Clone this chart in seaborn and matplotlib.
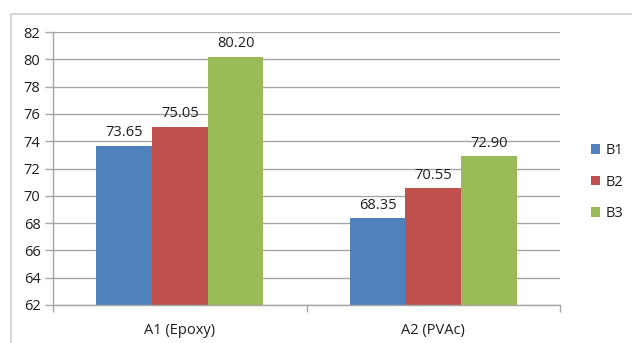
import matplotlib
matplotlib.use("Agg")
import matplotlib.pyplot as plt
from matplotlib.patches import Rectangle
import seaborn as sns
import pandas as pd

categories = ["A1 (Epoxy)", "A2 (PVAc)"]
series = ["B1", "B2", "B3"]
b1 = [73.65, 68.35]
b2 = [75.05, 70.55]
b3 = [80.20, 72.90]
yticks = [62, 64, 66, 68, 70, 72, 74, 76, 78, 80, 82]

colors = ["#4F81BD", "#C0504D", "#9BBB59"]

df = pd.DataFrame({
    "category": categories * 3,
    "series": [s for s in series for _ in categories],
    "value": b1 + b2 + b3,
})

sns.set_theme(style="white")
plt.rcParams["font.family"] = ["Open Sans", "DejaVu Sans"]
text_color = "#1f1f1f"
fs = 10.5

fig = plt.figure(figsize=(6.32, 3.43), dpi=100)
ax = fig.add_axes([53 / 632, 1 - 305 / 343, (560 - 53) / 632, (305 - 32) / 343])

sns.barplot(data=df, x="category", y="value", hue="series", palette=colors,
            width=0.66, saturation=1, ax=ax, errorbar=None, legend=True,
            linewidth=0, edgecolor="none")

ax.set_ylim(62, 82)
ax.set_yticks(yticks)
ax.set_yticklabels([str(t) for t in yticks], fontsize=fs, color=text_color)
ax.set_xlim(-0.5, 1.5)
ax.set_xlabel("")
ax.set_ylabel("")
ax.yaxis.grid(True, color="#a6a6a6", linewidth=1)
ax.set_axisbelow(True)

# bar value labels
for container in ax.containers:
    ax.bar_label(container, fmt="%.2f", padding=4, fontsize=fs, color=text_color)

# category boundary ticks on the x axis
ax.set_xticks([0, 1])
ax.set_xticklabels(categories, fontsize=fs, color=text_color)
ax.set_xticks([-0.5, 0.5, 1.5], minor=True)
ax.tick_params(axis="x", which="major", length=0, pad=13)
ax.tick_params(axis="x", which="minor", length=5, width=1, color="#a6a6a6",
               direction="out", bottom=True)
ax.tick_params(axis="y", which="major", length=6, width=1, color="#a6a6a6",
               direction="out", left=True, pad=3)

for side in ["top", "right"]:
    ax.spines[side].set_visible(False)
for side in ["left", "bottom"]:
    ax.spines[side].set_color("#a6a6a6")
    ax.spines[side].set_linewidth(1)

leg = ax.legend(loc="center left", bbox_to_anchor=(1.035, 0.45), frameon=False,
                fontsize=fs, handlelength=0.65, handleheight=0.65,
                labelspacing=1.15, handletextpad=0.35)
for t in leg.get_texts():
    t.set_color(text_color)

# outer chart frame
fig.patches.append(Rectangle((11 / 632, -0.05), 1.1, 1 - 14 / 343 + 0.05,
                             transform=fig.transFigure, fill=False,
                             edgecolor="#d0d0d0", linewidth=1.2))

fig.savefig("out.png", dpi=100)
